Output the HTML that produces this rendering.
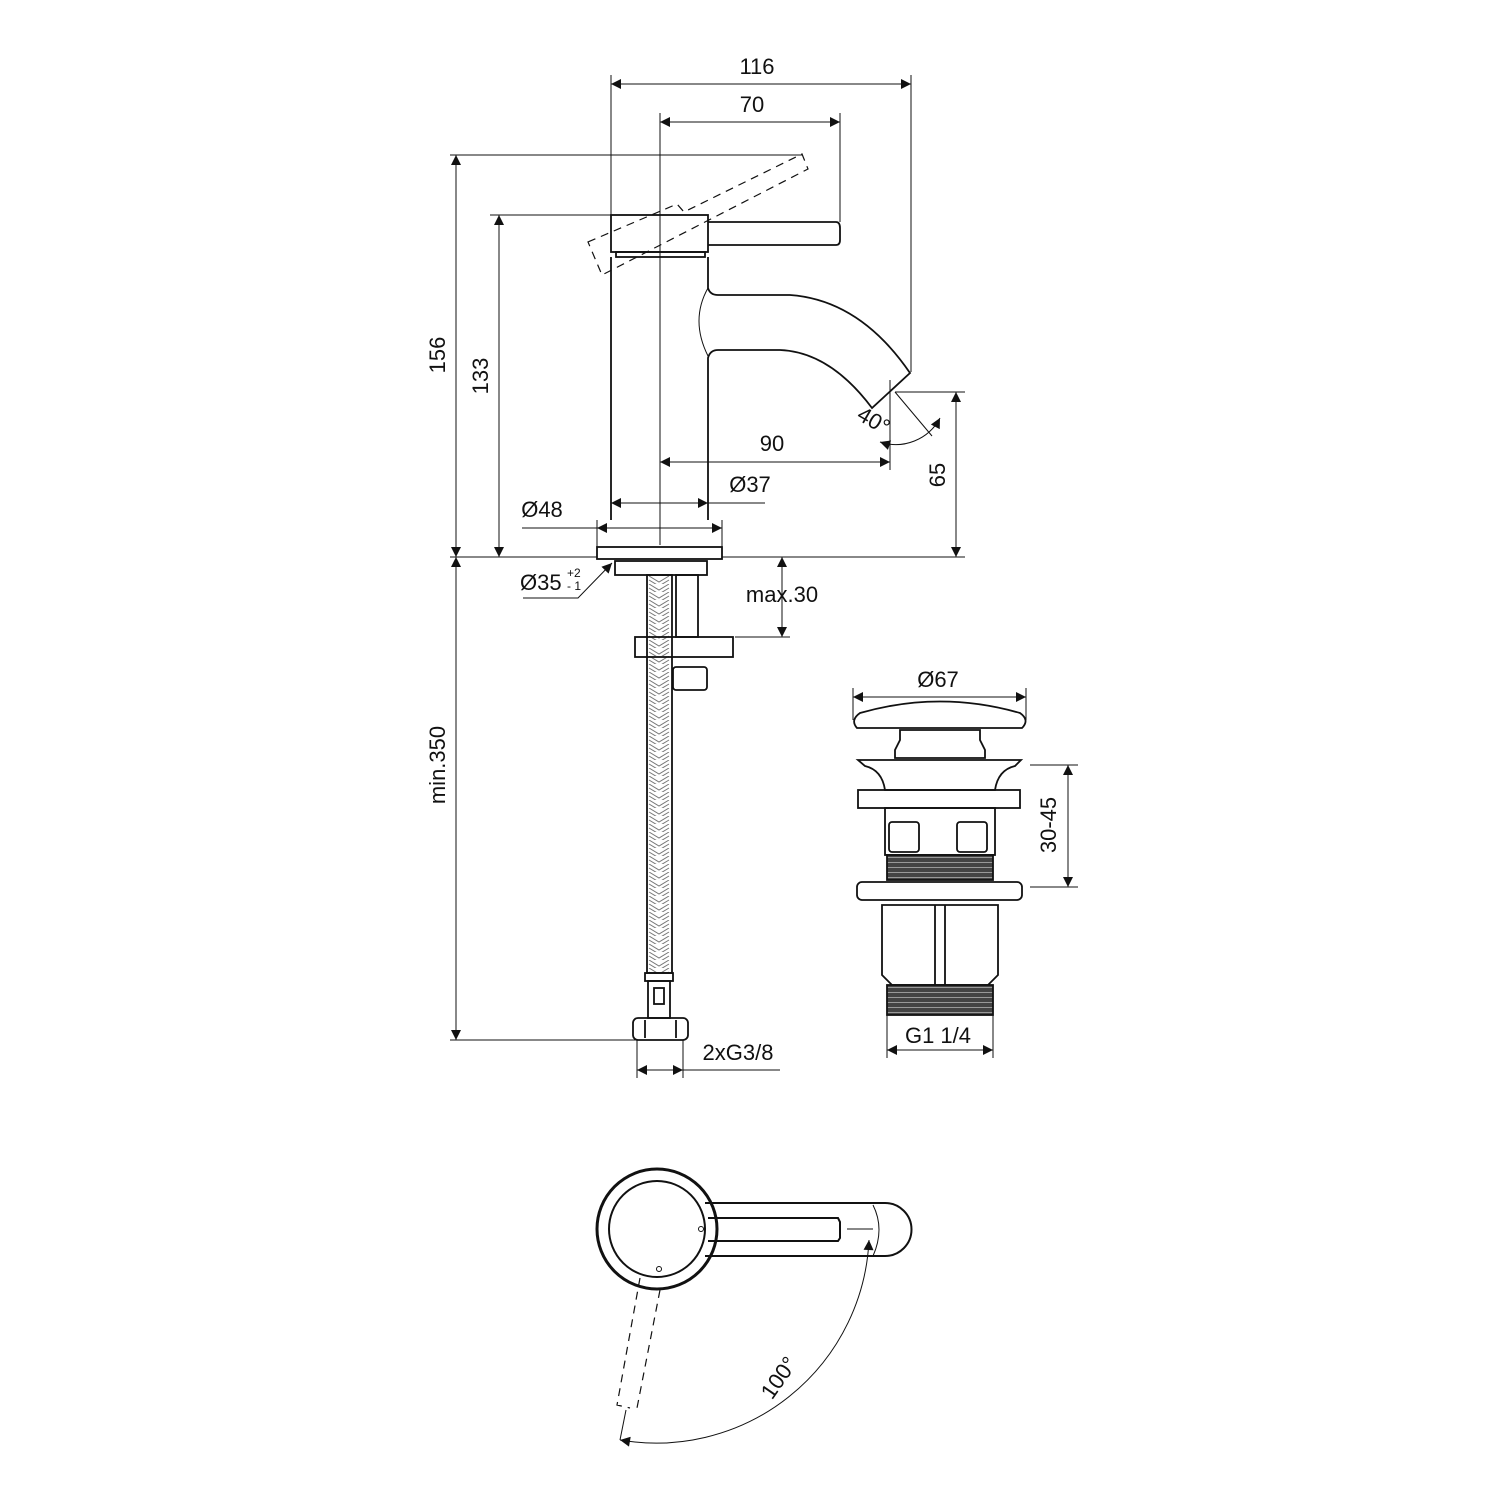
<!DOCTYPE html>
<html><head><meta charset="utf-8"><style>body{margin:0;background:#fff}svg{display:block}text{font-family:"Liberation Sans",sans-serif;fill:#111}</style></head><body>
<svg width="1500" height="1500" viewBox="0 0 1500 1500" xmlns="http://www.w3.org/2000/svg">
<defs>
<marker id="a" viewBox="0 0 10 10" refX="10" refY="5" markerWidth="16" markerHeight="10" markerUnits="userSpaceOnUse" orient="auto-start-reverse"><path d="M0,0 L10,5 L0,10z" fill="#111"/></marker>
<pattern id="br" x="647" y="0" width="25" height="8" patternUnits="userSpaceOnUse"><path d="M2,0 L12,6 L22,0 M2,4 L12,10 L22,4" stroke="#777" fill="none" stroke-width="1"/></pattern>
<pattern id="th" x="0" y="0" width="10" height="5" patternUnits="userSpaceOnUse"><rect width="10" height="5" fill="#444"/><line x1="0" y1="2.5" x2="10" y2="2.5" stroke="#999" stroke-width="1"/></pattern>
</defs>
<g stroke="#111" fill="none" stroke-width="1">
<line x1="611" y1="75" x2="611" y2="215"/>
<line x1="911" y1="75" x2="911" y2="372"/>
<line x1="660" y1="113" x2="660" y2="545"/>
<line x1="840" y1="113" x2="840" y2="222"/>
<line x1="450" y1="155" x2="802" y2="155"/>
<line x1="490" y1="215" x2="611" y2="215"/>
<line x1="450" y1="557" x2="597" y2="557"/>
<line x1="722" y1="557" x2="965" y2="557"/>
<line x1="895" y1="392" x2="965" y2="392"/>
<line x1="890" y1="380" x2="890" y2="470"/>
<line x1="895" y1="392" x2="932" y2="436"/>
<line x1="597" y1="520" x2="597" y2="547"/>
<line x1="722" y1="520" x2="722" y2="547"/>
<line x1="735" y1="637" x2="790" y2="637"/>
<line x1="450" y1="1040" x2="640" y2="1040"/>
<line x1="637" y1="1040" x2="637" y2="1078"/>
<line x1="683" y1="1040" x2="683" y2="1078"/>
<line x1="853" y1="688" x2="853" y2="720"/>
<line x1="1026" y1="688" x2="1026" y2="720"/>
<line x1="1030" y1="765" x2="1078" y2="765"/>
<line x1="1030" y1="887" x2="1078" y2="887"/>
<line x1="887" y1="1015" x2="887" y2="1058"/>
<line x1="993" y1="1015" x2="993" y2="1058"/>
<line x1="611" y1="84" x2="911" y2="84" marker-start="url(#a)" marker-end="url(#a)"/>
<line x1="660" y1="122" x2="840" y2="122" marker-start="url(#a)" marker-end="url(#a)"/>
<line x1="456" y1="155" x2="456" y2="557" marker-start="url(#a)" marker-end="url(#a)"/>
<line x1="499" y1="215" x2="499" y2="557" marker-start="url(#a)" marker-end="url(#a)"/>
<line x1="956" y1="392" x2="956" y2="557" marker-start="url(#a)" marker-end="url(#a)"/>
<line x1="660" y1="462" x2="890" y2="462" marker-start="url(#a)" marker-end="url(#a)"/>
<line x1="611" y1="503" x2="708" y2="503" marker-start="url(#a)" marker-end="url(#a)"/>
<line x1="708" y1="503" x2="765" y2="503"/>
<line x1="522" y1="528" x2="597" y2="528"/>
<line x1="597" y1="528" x2="722" y2="528" marker-start="url(#a)" marker-end="url(#a)"/>
<polyline points="523,598 578,598 612,563" marker-end="url(#a)"/>
<line x1="782" y1="557" x2="782" y2="637" marker-start="url(#a)" marker-end="url(#a)"/>
<line x1="456" y1="557" x2="456" y2="1040" marker-start="url(#a)" marker-end="url(#a)"/>
<line x1="637" y1="1070" x2="683" y2="1070" marker-start="url(#a)" marker-end="url(#a)"/>
<line x1="683" y1="1070" x2="780" y2="1070"/>
<path d="M880,442 A50,50 0 0 0 940,418" marker-start="url(#a)" marker-end="url(#a)"/>
<line x1="853" y1="697" x2="1026" y2="697" marker-start="url(#a)" marker-end="url(#a)"/>
<line x1="1068" y1="765" x2="1068" y2="887" marker-start="url(#a)" marker-end="url(#a)"/>
<line x1="887" y1="1050" x2="993" y2="1050" marker-start="url(#a)" marker-end="url(#a)"/>
<rect x="647" y="575" width="25" height="398" fill="url(#br)" stroke="none"/>
<g stroke-width="1.8">
<rect x="611" y="215" width="97" height="37"/>
<path d="M708,222 L836,222 Q840,222 840,228 L840,240 Q840,245 836,245 L708,245"/>
<rect x="616" y="252" width="89" height="5"/>
<path d="M611,257 L611,520 M708,257 L708,288 Q710,295 718,295 L790,295 Q860,300 910,373 L872,408 Q830,352 780,350 L718,350 Q710,350 708,358 L708,520"/>
<path d="M708,288 Q690,320 708,356" stroke-width="1"/>
<rect x="597" y="547" width="125" height="12"/>
<rect x="615" y="561" width="92" height="14"/>
<rect x="647" y="575" width="25" height="398"/>
<rect x="676" y="575" width="22" height="62"/>
<rect x="635" y="637" width="98" height="20"/>
<rect x="673" y="667" width="34" height="23" rx="3"/>
<rect x="645" y="973" width="28" height="8"/>
<rect x="648" y="981" width="22" height="37"/>
<rect x="654" y="988" width="10" height="16"/>
<rect x="633" y="1018" width="55" height="22" rx="5"/>
<line x1="645" y1="1020" x2="645" y2="1038"/><line x1="676" y1="1020" x2="676" y2="1038"/>
</g>
<path d="M588,242 L677,204 L684,212 L802,154 L808,169 L602,275 Z" stroke-dasharray="8,6" stroke-width="1.2"/>
<g stroke-width="1.8">
<path d="M857,728 Q850,720 860,713 Q940,690 1020,713 Q1030,720 1022,728 Z"/>
<path d="M900,730 L980,730 L980,740 L985,750 L985,758 L895,758 L895,750 L900,740 Z"/>
<path d="M858,760 L1021,760 L1015,766 Q998,770 995,790 L885,790 Q882,770 865,766 Z"/>
<rect x="858" y="790" width="162" height="18"/>
<rect x="885" y="808" width="110" height="47"/>
<rect x="889" y="822" width="30" height="30" rx="3"/><rect x="957" y="822" width="30" height="30" rx="3"/>
<rect x="887" y="855" width="106" height="25" fill="url(#th)"/>
<rect x="857" y="882" width="165" height="18" rx="5"/>
<path d="M882,905 L998,905 L998,975 L988,985 L892,985 L882,975 Z"/>
<line x1="935" y1="905" x2="935" y2="985"/><line x1="945" y1="905" x2="945" y2="985"/>
<rect x="887" y="985" width="106" height="30" fill="url(#th)"/>
</g>
<g stroke-width="2">
<circle cx="657" cy="1229" r="60" stroke-width="3"/>
<circle cx="657" cy="1229" r="48"/>
<path d="M705,1203 L885,1203 A26,26 0 0 1 885,1256 L705,1256"/>
<path d="M708,1218 L838,1218 L840,1222 L840,1238 L838,1241 L708,1241"/>
</g>
<circle cx="701" cy="1229" r="2.5"/><circle cx="659" cy="1269" r="2.5"/>
<path d="M873,1205 Q885,1229 873,1256"/>
<line x1="847" y1="1229" x2="873" y2="1229"/>
<path d="M869,1240 A213,213 0 0 1 620,1440" marker-start="url(#a)" marker-end="url(#a)"/>
<line x1="626" y1="1410" x2="620" y2="1440"/>
<path d="M640,1278 L617,1405 L630,1408 M660,1290 L637,1408" stroke-dasharray="8,6" stroke-width="1.2"/>
</g>
<g font-size="22">
<text x="757" y="74" text-anchor="middle">116</text>
<text x="752" y="112" text-anchor="middle">70</text>
<text x="772" y="451" text-anchor="middle">90</text>
<text x="750" y="492" text-anchor="middle">Ø37</text>
<text x="542" y="517" text-anchor="middle">Ø48</text>
<text x="520" y="590">Ø35</text>
<text x="567" y="577" font-size="12">+2</text>
<text x="567" y="590" font-size="12">- 1</text>
<text x="782" y="602" text-anchor="middle">max.30</text>
<text x="738" y="1060" text-anchor="middle">2xG3/8</text>
<text x="938" y="687" text-anchor="middle">Ø67</text>
<text x="938" y="1043" text-anchor="middle">G1 1/4</text>
<text transform="translate(445,355) rotate(-90)" text-anchor="middle">156</text>
<text transform="translate(488,376) rotate(-90)" text-anchor="middle">133</text>
<text transform="translate(945,475) rotate(-90)" text-anchor="middle">65</text>
<text transform="translate(445,765) rotate(-90)" text-anchor="middle">min.350</text>
<text transform="translate(1056,825) rotate(-90)" text-anchor="middle">30-45</text>
<text transform="translate(870,427) rotate(30)" text-anchor="middle">40°</text>
<text transform="translate(785,1382) rotate(-55)" text-anchor="middle">100°</text>
</g>
</svg>
</body></html>
